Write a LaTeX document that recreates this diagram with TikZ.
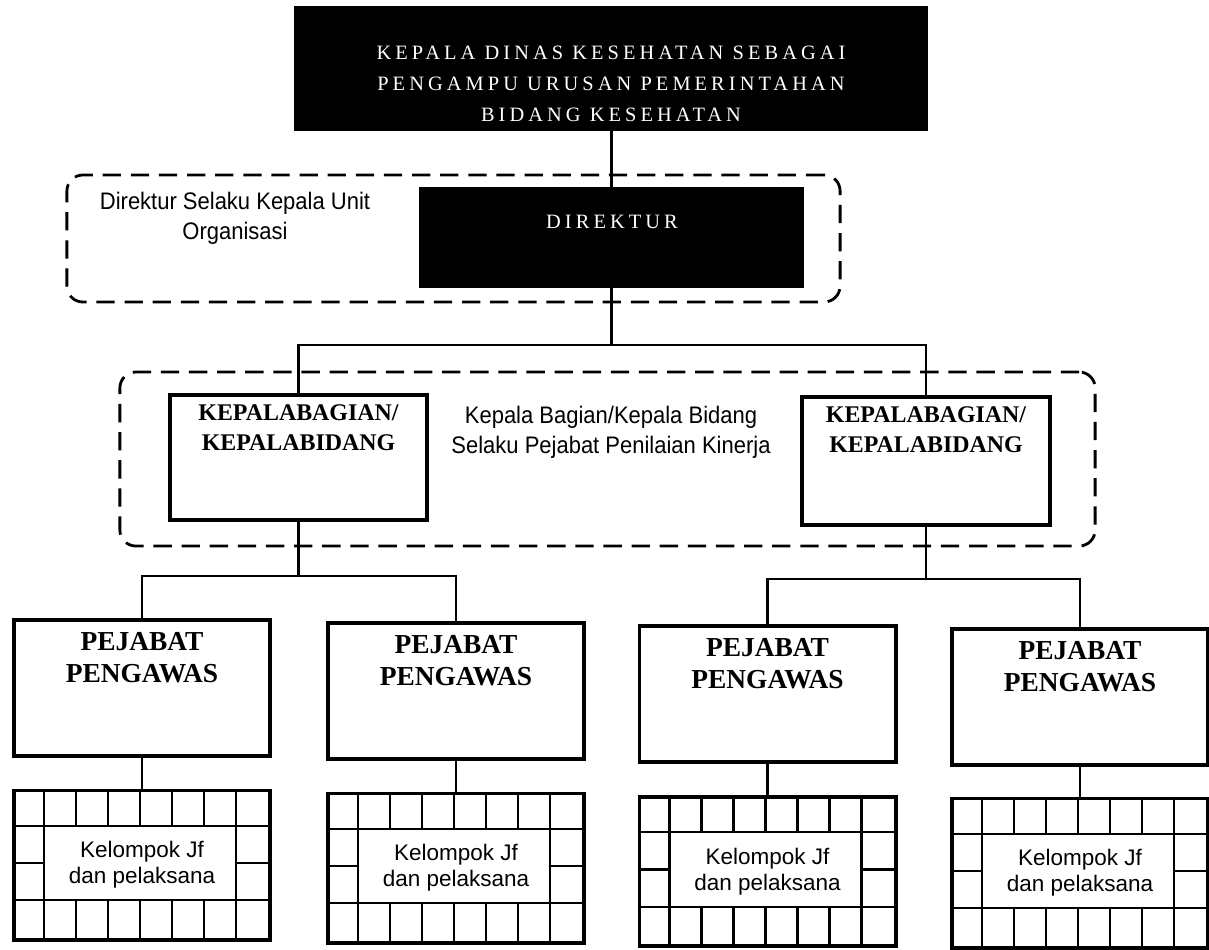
\documentclass[tikz,border=0pt]{standalone}
\usepackage{fontspec}
\setmainfont{Liberation Serif}
\newfontfamily\notefont[FakeStretch=0.92]{Liberation Sans}
\newfontfamily\cellfont{Liberation Sans}
\usetikzlibrary{positioning}

\begin{document}
\begin{tikzpicture}[
    x=0.025cm, y=-0.025cm,
    blackbox/.style={draw, fill=black, line width=1pt},
    whitecaps/.style={text=white, align=center, inner sep=0pt,
      font=\fontsize{14.5}{22}\selectfont\addfontfeatures{LetterSpace=20}},
    framebox/.style={draw, fill=white, line width=2.8pt},
    hdr/.style={inner sep=0pt, align=center, font=\bfseries\fontsize{17}{21.5}\selectfont},
    hdrbig/.style={hdr, font=\bfseries\fontsize{19.5}{23}\selectfont},
    dashframe/.style={draw, line width=2pt, dash pattern=on 13pt off 7pt,
      rounded corners=0.4cm},
    note/.style={align=center, inner sep=0pt, font=\notefont\fontsize{17}{21.5}\selectfont},
    gridbox/.style={draw, fill=white, line width=2.8pt, minimum width=6.4cm,
      minimum height=3.725cm, align=center, font=\cellfont\fontsize{16}{18.5}\selectfont},
    gridline/.style={line width=1.6pt},
    link/.style={draw, line width=2pt}
    ]
\useasboundingbox (0,0) rectangle (1209,949);

% dashed frames
\node[dashframe, minimum width=19.325cm, minimum height=3.175cm] (dirframe) at (453.5,238.5) {};
\node[dashframe, minimum width=24.375cm, minimum height=4.35cm] (kbframe) at (607.5,459) {};

% top level
\node[blackbox, minimum width=15.8cm, minimum height=3.075cm] (kadis) at (611,68.5) {};
\node[whitecaps] (kadist) at (611,84) {KEPALA DINAS KESEHATAN SEBAGAI\\
  PENGAMPU URUSAN PEMERINTAHAN\\BIDANG KESEHATAN};

\node[blackbox, minimum width=9.575cm, minimum height=2.475cm] (dir) at (611.5,237.5) {};
\node[whitecaps] (dirt) at (612,222) {DIREKTUR};
\node[note] (dirnote) at (235,218) {Direktur Selaku Kepala Unit\\Organisasi};

% kepala bagian
\node[framebox, minimum width=6.425cm, minimum height=3.125cm] (kb1) at (298.5,457.5) {};
\node[framebox, minimum width=6.2cm, minimum height=3.2cm] (kb2) at (926,461) {};
\foreach \i in {1,2}
  \node[hdr, below=8pt of kb\i.north] (kb\i t) {KEPALABAGIAN/\\KEPALABIDANG};
\node[note] (kbnote) at (611,432) {Kepala Bagian/Kepala Bidang\\Selaku Pejabat Penilaian Kinerja};

% pejabat pengawas
\foreach \i/\px/\py in {1/142/688, 2/456/691, 3/767.5/694, 4/1080/697}
  \node[framebox, minimum width=6.4cm, minimum height=3.4cm] (pp\i) at (\px,\py) {};
\foreach \i in {1,...,4}
  \node[hdrbig, below=10pt of pp\i.north] (pp\i t) {PEJABAT\\PENGAWAS};

% kelompok jf
\foreach \i/\px/\py in {1/142/865, 2/456/868, 3/767.5/871.5, 4/1080/873}
  \node[gridbox] (jf\i) at (\px,\py) {Kelompok Jf\\dan pelaksana};
\foreach \i in {1,...,4}{
  \begin{scope}[shift={(jf\i.north west)}, x=0.8cm, y=-0.93125cm]
    \foreach \c in {1,...,7}
      \draw[gridline] (\c,0) -- (\c,1) (\c,3) -- (\c,4);
    \draw[gridline] (1,1) -- (1,3) (7,1) -- (7,3);
    \draw[gridline] (0,1) -- (8,1) (0,3) -- (8,3) (0,2) -- (1,2) (7,2) -- (8,2);
  \end{scope}
}

% connectors
\coordinate (j0) at (611.5,345);
\coordinate[below=1.35cm of kb1.south] (j1);
\coordinate[below=1.3cm of kb2.south] (j2);
\draw[link] (kadis.south -| dir.north) -- (dir.north);
\draw[link] (dir.south) -- (j0);
\draw[link] (kb1.north) |- (j0) -| (kb2.north);
\draw[link] (kb1.south) -- (j1);
\draw[link] (pp1.north) |- (j1) -| (pp2.north);
\draw[link] (kb2.south) -- (j2);
\draw[link] (pp3.north) |- (j2) -| (pp4.north);
\foreach \i in {1,...,4}
  \draw[link] (pp\i.south) -- (jf\i.north);
\end{tikzpicture}
\end{document}
